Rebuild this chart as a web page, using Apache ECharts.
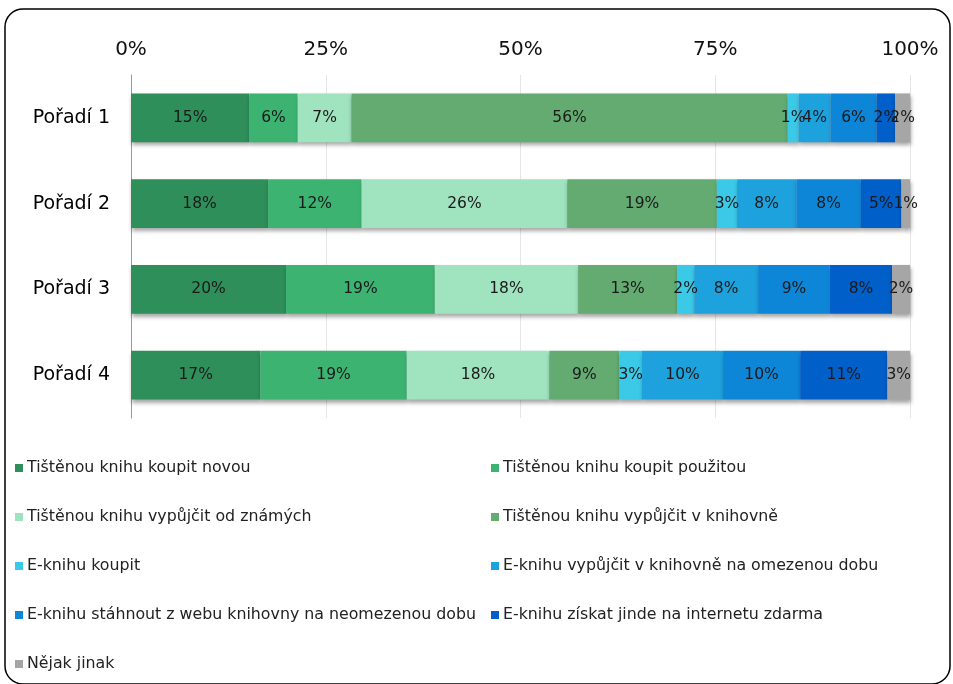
<!DOCTYPE html>
<html>
<head>
<meta charset="utf-8">
<script src="https://cdn.jsdelivr.net/npm/echarts@6/dist/echarts.min.js"></script>
<style>html,body{margin:0;padding:0;background:#fff}#c{width:953px;height:684px}</style>
</head>
<body>
<div id="c"></div>
<script>
const categories = ["Pořadí 1", "Pořadí 2", "Pořadí 3", "Pořadí 4"];
const seriesNames = [
  "Tištěnou knihu koupit novou",
  "Tištěnou knihu koupit použitou",
  "Tištěnou knihu vypůjčit od známých",
  "Tištěnou knihu vypůjčit v knihovně",
  "E-knihu koupit",
  "E-knihu vypůjčit v knihovně na omezenou dobu",
  "E-knihu stáhnout z webu knihovny na neomezenou dobu",
  "E-knihu získat jinde na internetu zdarma",
  "Nějak jinak"
];
const s1 = [15.2, 17.6, 19.9, 16.6];
const s2 = [6.2, 12.0, 19.1, 18.8];
const s3 = [6.9, 26.4, 18.4, 18.3];
const s4 = [56.0, 19.2, 12.7, 9.0];
const s5 = [1.4, 2.6, 2.2, 2.9];
const s6 = [4.1, 7.6, 8.2, 10.4];
const s7 = [5.9, 8.3, 9.2, 9.9];
const s8 = [2.4, 5.2, 8.0, 11.2];
const s9 = [1.9, 1.1, 2.3, 2.9];
const seriesValues = [s1, s2, s3, s4, s5, s6, s7, s8, s9];
const tickValues = [0, 25, 50, 75, 100];
const colors = ["#2E8F5A", "#3CB371", "#A0E3BF", "#63AB71", "#3BC9E8", "#1EA2DD", "#0E86D8", "#005FC8", "#A6A6A6"];

const FONT = "DejaVu Sans";
const series = seriesNames.map((n, i) => ({
  name: n,
  type: 'bar',
  stack: 'total',
  barCategoryGap: '43%',
  data: seriesValues[i],
  itemStyle: {
    color: colors[i],
    shadowColor: 'rgba(0,0,0,0.35)',
    shadowBlur: 4,
    shadowOffsetX: 1,
    shadowOffsetY: 3
  },
  label: {
    show: true,
    position: 'inside',
    formatter: p => Math.round(p.value) + '%',
    color: '#1a1a1a',
    fontFamily: FONT,
    fontSize: 15.5
  }
}));

const leftCol = [0, 2, 4, 6, 8].map(i => seriesNames[i]);
const rightCol = [1, 3, 5, 7].map(i => seriesNames[i]);
const legendCommon = {
  orient: 'vertical',
  top: 453,
  itemWidth: 8,
  itemHeight: 8,
  itemGap: 29,
  icon: 'rect',
  textStyle: { fontFamily: FONT, fontSize: 15.8, color: '#222', lineHeight: 20, padding: [0, 0, 0, -1] },
  selectedMode: false
};

const chart = echarts.init(document.getElementById('c'));
chart.setOption({
  animation: false,
  color: colors,
  graphic: [{
    type: 'rect',
    shape: { x: 5, y: 9, width: 945, height: 675, r: 18 },
    style: { fill: 'none', stroke: '#000', lineWidth: 1.5 },
    z: 100
  }],
  legend: [
    Object.assign({}, legendCommon, { left: 10, data: leftCol }),
    Object.assign({}, legendCommon, { left: 486, data: rightCol })
  ],
  grid: { left: 131, right: 43, top: 75, height: 343, containLabel: false },
  xAxis: {
    type: 'value',
    position: 'top',
    min: 0,
    max: 100,
    interval: 25,
    axisLine: { show: false },
    axisTick: { show: false },
    axisLabel: {
      formatter: v => tickValues.includes(v) ? v + '%' : '',
      fontFamily: FONT,
      fontSize: 20,
      color: '#111',
      margin: 15
    },
    splitLine: { show: true, lineStyle: { color: '#e6e6e6', width: 1 } }
  },
  yAxis: {
    type: 'category',
    data: categories,
    inverse: true,
    axisLine: { show: true, lineStyle: { color: '#999' } },
    axisTick: { show: false },
    axisLabel: { fontFamily: FONT, fontSize: 19, color: '#000', margin: 21 }
  },
  series: series
});
</script>
</body>
</html>
